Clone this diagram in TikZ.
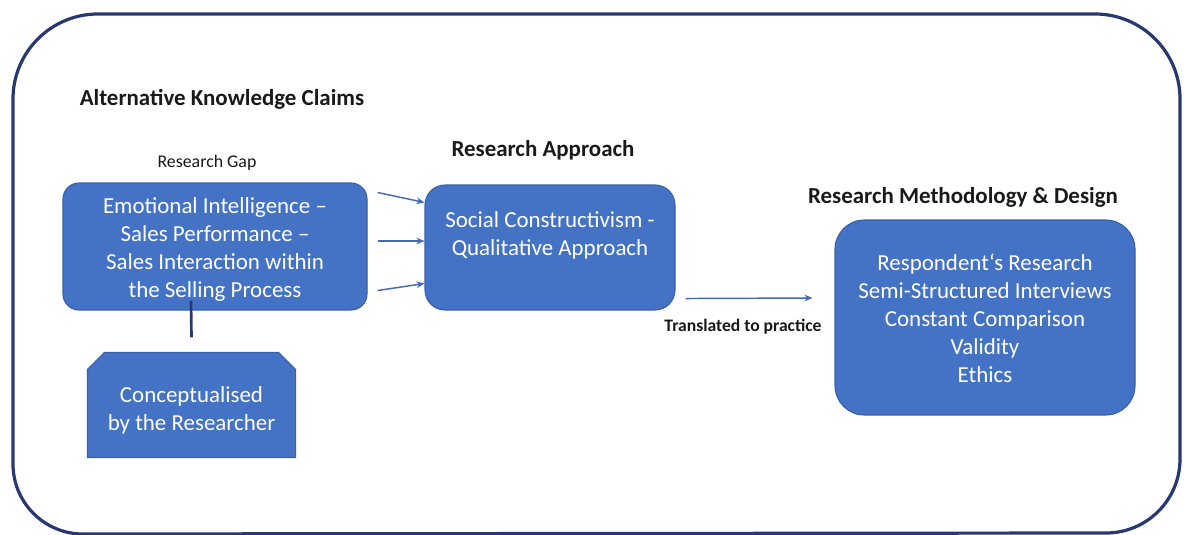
\documentclass[tikz,border=0pt]{standalone}
\usepackage{fontspec}
\setmainfont{Carlito}
\usetikzlibrary{calc,backgrounds,arrows.meta}
\definecolor{boxblue}{RGB}{68,114,196}
\definecolor{boxedge}{RGB}{56,96,170}
\definecolor{frame}{RGB}{40,56,112}
\definecolor{arrowblue}{RGB}{70,105,180}
% centred multi-line block text, lowered by #1 while keeping its nominal size
\newcommand{\blocktext}[3]{\raisebox{#1}[\height][\depth]{\parbox{#2}{\centering #3}}}
\tikzset{
  title/.style={font=\fontsize{17.2pt}{20pt}\selectfont\bfseries, text=black!90, inner sep=0pt},
  caption/.style={font=\fontsize{13.4pt}{16pt}\selectfont, text=black!90, inner sep=0pt},
  smallbold/.style={font=\fontsize{13.2pt}{15pt}\selectfont\bfseries, text=black!90, inner sep=0pt},
  blockbox/.style={fill=boxblue, draw=boxedge, line width=0.8pt, text=white,
    align=center, inner sep=0pt,
    font=\fontsize{17.2pt}{21pt}\selectfont},
  flow/.style={draw=arrowblue, line width=1.1pt, -{Stealth[length=6pt,width=5pt]}},
}
\begin{document}
\begin{tikzpicture}[x=0.75pt,y=0.75pt]
\useasboundingbox (0,0) rectangle (1185,-535);
\clip (0,0) rectangle (1185,-535);

% outer frame
\draw[frame, line width=2.4pt]
  (13,-463) -- (13,-99) arc[start angle=180,end angle=90,radius=85]
  -- (1095,-14) arc[start angle=90,end angle=0,radius=85]
  -- (1180,-459) arc[start angle=0,end angle=-90,radius=74]
  -- (83,-534) arc[start angle=270,end angle=180,radius=70] -- cycle;

% headings
\node[title] (akc) at (222,-99) {Alternative Knowledge Claims};
\node[caption] (gap) at (207,-163) {Research Gap};
\node[title] (ra) at (543,-150) {Research Approach};
\node[title] (rmdt) at (963,-197) {Research Methodology \& Design};

% blocks (sizes: 1px = 0.75pt)
\node[blockbox, rounded corners=12pt, minimum width=228pt, minimum height=95.25pt] (ei) at (215,-246.5)
  {\blocktext{-2.5pt}{220pt}{Emotional Intelligence –\\Sales Performance –\\Sales Interaction within\\the Selling Process}};

\node[blockbox, rounded corners=15pt, minimum width=187.5pt, minimum height=93.75pt] (sc) at (550,-247.5)
  {\blocktext{-1.5pt}{180pt}{\strut Social Constructivism -\\Qualitative Approach\\\strut}};

\node[blockbox, rounded corners=22pt, minimum width=225pt, minimum height=146.25pt] (rmd) at (985,-317.5)
  {\blocktext{-0.75pt}{220pt}{Respondent‘s Research\\Semi-Structured Interviews\\Constant Comparison\\Validity\\Ethics}};

% snipped-corner block
\node[blockbox, fill=none, draw=none, minimum width=155.25pt, minimum height=78pt] (cr) at (191.5,-405)
  {\blocktext{-4pt}{150pt}{Conceptualised\\by the Researcher}};
\begin{scope}[on background layer]
  \filldraw[fill=boxblue, draw=boxedge, line width=0.8pt]
    (cr.south west) -- ($(cr.north west)+(0,-17)$) -- ($(cr.north west)+(17,0)$)
    -- ($(cr.north east)+(-17,0)$) -- ($(cr.north east)+(0,-17)$) -- (cr.south east) -- cycle;
\end{scope}

% connectors
\draw[frame, line width=2pt] ($(ei.south)+(-24,10)$) -- ($(cr.north)+(0,15)$);

\draw[flow] ($(ei.north east)+(10,-10)$) -- ($(sc.north west)+(0,-18)$);
\draw[flow] ($(ei.east)+(10,5.5)$) -- ($(sc.west)+(0,6.5)$);
\draw[flow] ($(ei.south east)+(10,20)$) -- ($(sc.south west)+(0,27)$);

\draw[flow] ($(sc.south east)+(10,12)$) -- ($(rmd.west)+(-22,19.5)$);
\node[smallbold] (tpl) at (743,-327) {Translated to practice};
\end{tikzpicture}
\end{document}
